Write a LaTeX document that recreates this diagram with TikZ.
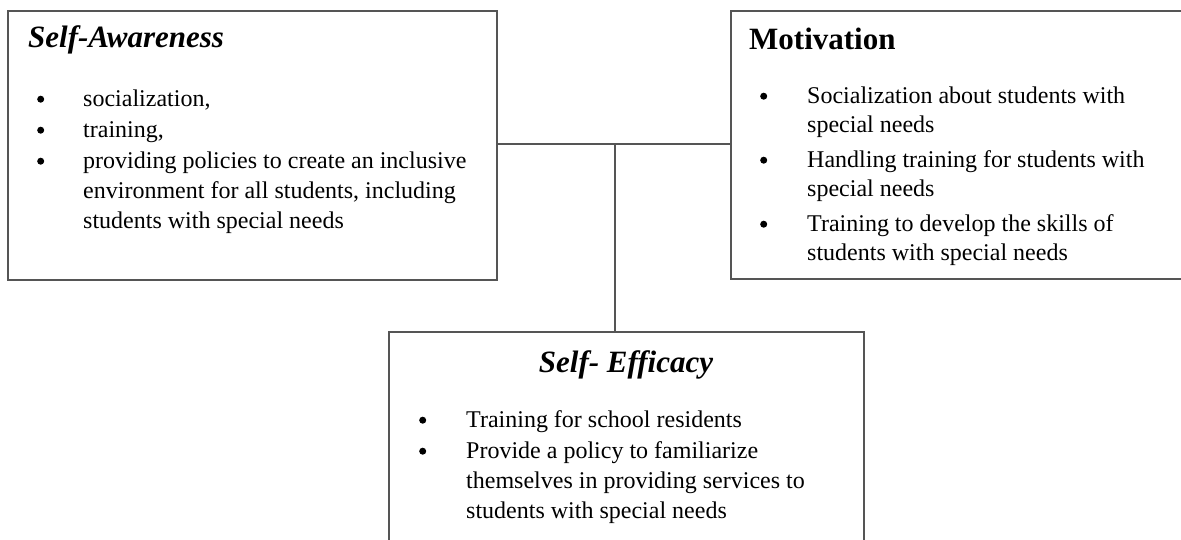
\documentclass[tikz,border=0pt]{standalone}
\usepackage{fontspec}
\setmainfont{Liberation Serif}
\usepackage{array}
\definecolor{linegray}{RGB}{85,85,85}
\tikzset{
  box/.style={draw=linegray, line width=1.8pt, rectangle, outer sep=0pt, inner sep=0pt, anchor=north west},
  conn/.style={draw=linegray, line width=1.8pt},
  headtxt/.style={inner sep=0pt, font=\fontsize{31}{36}\selectfont\bfseries},
  bodytxt/.style={inner sep=0pt, anchor=north west, align=left}
}
\newcommand{\bodyfont}[1]{\fontsize{24}{#1}\selectfont}
\newcommand{\bul}{\tikz[x=1cm,y=1cm,baseline={(0,-7pt)}]\fill (0,0) circle (3.5pt);}
\begin{document}
\begin{tikzpicture}[x=1pt,y=-1pt]
\useasboundingbox (0,0) rectangle (1181,540);
\clip (0,0) rectangle (1181,540);
\fill[white] (0,0) rectangle (1181,540);
% boxes
\node[box, minimum width=489pt, minimum height=269pt] (A) at (8,11) {};
\node[box, minimum width=470pt, minimum height=268pt] (M) at (731,11) {};
\node[box, minimum width=475pt, minimum height=240pt] (E) at (389,332) {};
% connectors
\coordinate (j) at (615,144);
\draw[conn] (A.east |- j) -- (M.west |- j);
\draw[conn] (j) -- (j |- E.north);
% headings
\node[headtxt, anchor=base west] (Ah) at (28,48) {\itshape Self-Awareness};
\node[headtxt, anchor=base west] (Mh) at (749,50) {Motivation};
\node[headtxt, anchor=base] (Eh) at (626,372) {\itshape Self- Efficacy};
% bodies
\node[bodytxt] (Ab) at (37,85) {\bodyfont{30}%
\begin{tabular}{@{}p{46pt}@{}l@{}}
\bul & socialization,\\[1pt]
\bul & training,\\[1pt]
\bul & providing policies to create an inclusive\\
 & environment for all students, including\\
 & students with special needs
\end{tabular}};
\node[bodytxt] (Mb) at (760,82.7) {\bodyfont{29}%
\begin{tabular}{@{}p{47pt}@{}l@{}}
\bul & Socialization about students with\\
 & special needs\\[6pt]
\bul & Handling training for students with\\
 & special needs\\[6pt]
\bul & Training to develop the skills of\\
 & students with special needs
\end{tabular}};
\node[bodytxt] (Eb) at (419,406) {\bodyfont{30}%
\begin{tabular}{@{}p{47pt}@{}l@{}}
\bul & Training for school residents\\[1pt]
\bul & Provide a policy to familiarize\\
 & themselves in providing services to\\
 & students with special needs
\end{tabular}};
\end{tikzpicture}
\end{document}
